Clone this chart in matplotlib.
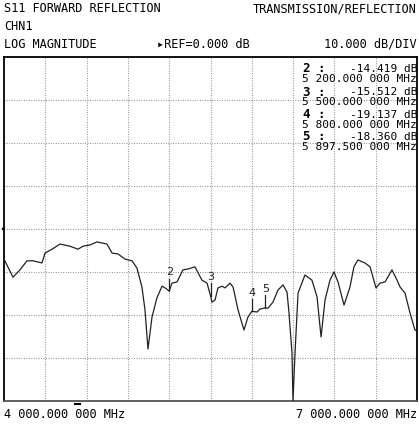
import matplotlib
matplotlib.use("Agg")
import matplotlib.pyplot as plt

# ---- data ----
freq_mhz = [4000, 4065, 4116, 4167, 4211, 4276, 4298, 4349, 4407, 4479, 4538, 4574,
            4625, 4676, 4748, 4785, 4828, 4879, 4930, 4966, 5002, 5024, 5046, 5075,
            5111, 5148, 5170, 5200, 5220, 5257, 5300, 5337, 5387, 5438, 5475, 5500,
            5511, 5533, 5554, 5584, 5605, 5642, 5664, 5700, 5743, 5772, 5800, 5838,
            5860, 5897.5, 5918, 5954, 5990, 6027, 6056, 6070, 6092, 6099, 6114, 6136,
            6186, 6237, 6274, 6303, 6332, 6368, 6397, 6426, 6470, 6513, 6542, 6571,
            6622, 6659, 6702, 6731, 6768, 6818, 6855, 6877, 6913, 6949, 6985, 7000]
mag_db = [-7.0, -11.2, -9.5, -7.4, -7.4, -7.9, -5.6, -4.7, -3.5, -4.0, -4.7, -4.0,
          -3.7, -3.0, -3.5, -5.6, -5.8, -7.0, -7.4, -9.1, -13.5, -18.8, -27.9, -20.5,
          -16.0, -13.3, -13.7, -14.419, -12.6, -12.3, -9.5, -9.3, -8.8, -11.9, -12.6, -15.512,
          -17.0, -16.5, -13.7, -13.3, -13.7, -12.6, -13.5, -18.8, -23.5, -20.5, -19.137, -19.3,
          -18.6, -18.360, -18.4, -17.0, -14.2, -13.0, -14.7, -19.5, -28.8, -40.0, -28.8, -14.9,
          -10.7, -11.9, -15.8, -25.1, -16.5, -11.9, -10.0, -12.3, -17.7, -13.5, -8.8, -7.2,
          -7.9, -8.8, -13.7, -12.6, -12.3, -9.5, -11.9, -13.5, -14.9, -19.5, -23.5, -23.7]

marker_ids = ["2", "3", "4", "5"]
marker_freq = [5200.0, 5500.0, 5800.0, 5897.5]
marker_db = [-14.419, -15.512, -19.137, -18.360]
marker_val_text = ["-14.419 dB", "-15.512 dB", "-19.137 dB", "-18.360 dB"]
marker_freq_text = ["5 200.000 000 MHz", "5 500.000 000 MHz", "5 800.000 000 MHz", "5 897.500 000 MHz"]

start_label = "4 000.000 000 MHz"
stop_label = "7 000.000 000 MHz"
ref_db = 0.0
db_per_div = 10.0
x_start, x_stop = 4000, 7000

W, H = 419, 428
fig = plt.figure(figsize=(W / 100, H / 100), dpi=100)
fig.patch.set_facecolor("white")

L, R, T, B = 4, 417, 57, 401
ax = fig.add_axes([L / W, 1 - B / H, (R - L) / W, (B - T) / H])
ax.set_xlim(x_start, x_stop)
ax.set_ylim(ref_db - 4 * db_per_div, ref_db + 4 * db_per_div)
ax.set_xticks([x_start + i * (x_stop - x_start) / 10 for i in range(1, 10)])
ax.set_yticks([ref_db + k * db_per_div for k in range(-3, 4)])
ax.tick_params(length=0, labelbottom=False, labelleft=False)
ax.grid(True, color="#888888", linewidth=0.8, linestyle=(0, (0.8, 1.4)))
for side, sp in ax.spines.items():
    sp.set_color("black")
    sp.set_linewidth(1.3)
ax.spines["bottom"].set_color("#555555")

ax.plot(freq_mhz, mag_db, color="#222222", linewidth=0.9, clip_on=True, zorder=3)

for mid, mf, mdb in zip(marker_ids, marker_freq, marker_db):
    ax.plot([mf, mf], [mdb, mdb + 2.9], color="#222222", linewidth=0.9, zorder=4)
    ax.text(mf, mdb + 3.2, mid, ha="center", va="bottom", fontsize=8,
            family="DejaVu Sans", color="#222222", zorder=5)

mono = "DejaVu Sans Mono"

def fx(x):
    return x / W

def fy(y):
    return 1 - y / H

fig.text(fx(4), fy(9), "S11 FORWARD REFLECTION", family=mono, fontsize=8.6, va="center", ha="left")
fig.text(fx(417), fy(9), "TRANSMISSION/REFLECTION", family=mono, fontsize=8.6, va="center", ha="right")
fig.text(fx(4), fy(26), "CHN1", family=mono, fontsize=8.6, va="center", ha="left")
fig.text(fx(4), fy(44), "LOG MAGNITUDE", family=mono, fontsize=8.6, va="center", ha="left")
fig.text(fx(157), fy(44), "\u25b8REF=%.3f dB" % ref_db, family=mono, fontsize=8.6, va="center", ha="left")
fig.text(fx(417), fy(44), "%.3f dB/DIV" % db_per_div, family=mono, fontsize=8.6, va="center", ha="right")
fig.text(fx(4), fy(414), start_label, family=mono, fontsize=8.6, va="center", ha="left")
fig.text(fx(417), fy(414), stop_label, family=mono, fontsize=8.6, va="center", ha="right")

row_y = [69, 92, 115, 137]
for mid, vt, ft, yy in zip(marker_ids, marker_val_text, marker_freq_text, row_y):
    fig.text(fx(303), fy(yy), mid + " :", family=mono, fontsize=9, fontweight="bold", va="center", ha="left")
    fig.text(fx(417), fy(yy), vt, family=mono, fontsize=8, va="center", ha="right")
    fig.text(fx(417), fy(yy + 10), ft, family=mono, fontsize=8, va="center", ha="right")

# reference position pointer and stimulus mark
fig.text(fx(0), fy(229), "\u25b8", family=mono, fontsize=6, va="center", ha="left")
fig.add_artist(plt.Line2D([fx(75), fx(80)], [fy(403.5), fy(403.5)], color="black", linewidth=1.5))

fig.savefig("out.png", dpi=100, facecolor="white")
